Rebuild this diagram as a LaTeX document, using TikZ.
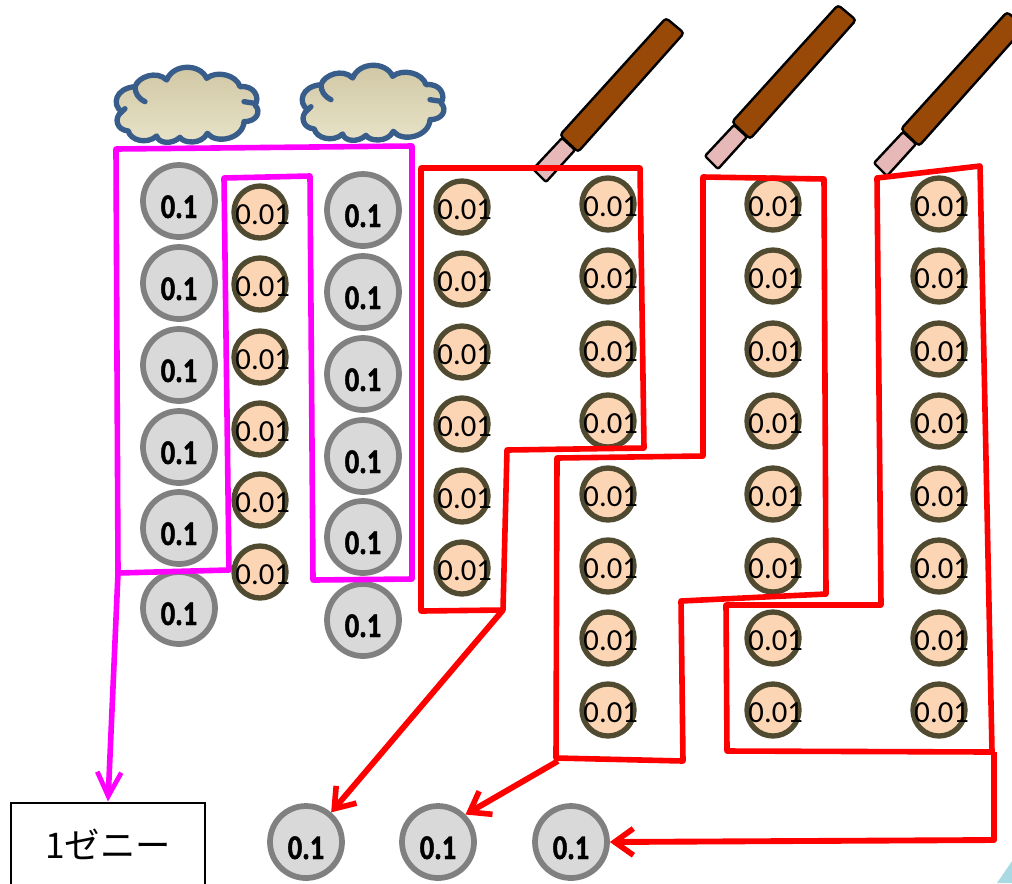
\documentclass[tikz,border=0pt]{standalone}
\usepackage{fontspec}
\usepackage{amsmath}
\usetikzlibrary{arrows.meta}
\setmainfont{Carlito}
\newfontface\bigfont{Carlito Bold}[FakeStretch=0.82,FakeBold=1.2]
\newfontfamily\jpfont{Noto Sans CJK JP}
\newcommand{\smalltxt}{\makebox[0pt]{\hspace{4pt}0.01}}

\begin{document}
\begin{tikzpicture}%
        [x=0.75pt,
        y=-0.75pt,
        bigcoin/.style={circle,draw=black!50,fill=black!15,line width=4.3pt,inner sep=0pt,minimum size=54pt,
            font=\bigfont\fontsize{26}{28}\selectfont,text height=25.5pt,text depth=0pt},
        smallcoin/.style={circle,draw=coinedge,fill=coinfill,line width=4pt,inner sep=0pt,minimum size=39pt,
            font=\fontsize{23}{25}\selectfont,text height=18pt,text depth=0pt},
        pengroup/.style={draw=pureline,line width=4.2pt,line join=round},
        redgroup/.style={draw=red,line width=4.2pt,line join=round},
        magarrow/.style={color=pureline,line width=4.2pt,-{Straight Barb[length=18pt,width=18pt,line width=3.6pt]}},
        redarrow/.style={color=red,line width=4.4pt,line join=round,-{Straight Barb[length=14pt,width=20pt,line width=4.2pt]}},
        pen/.style={draw=black,line width=1.8pt,rounded corners=2.5pt},
        cloudy/.style={draw=cloudedge,line width=4pt,top color=cloudtop,bottom color=cloudbot,line join=round},
        cloudline/.style={draw=cloudedge,line width=4pt,line cap=round}]

    \definecolor{coinedge}{HTML}{4F4A30}
    \definecolor{coinfill}{HTML}{FCD5B5}
    \definecolor{pureline}{HTML}{FF00FF}
    \definecolor{cloudedge}{HTML}{385D8A}
    \definecolor{cloudtop}{HTML}{CFC6A2}
    \definecolor{cloudbot}{HTML}{E8E3C9}
    \definecolor{penbrown}{HTML}{984807}
    \definecolor{penpink}{HTML}{E6B9B8}
    \definecolor{cornerblue}{HTML}{A9DAE3}

    \useasboundingbox (0,0) rectangle (1012,883);

    %% Corner mark
    \fill[cornerblue] (1012,861) -- (1012,883) -- (997,883) -- cycle;

    %% Pens
    \foreach \dx/\dy in {0/0,172/-13,341/-6}{
        \begin{scope}[shift={(\dx,\dy)}]
            \filldraw[pen,fill=penpink,rounded corners=1.5pt] (533,169) -- (562,138) -- (575,150) -- (546,182) -- cycle;
            \filldraw[pen,fill=penbrown] (666,18) -- (684,33) -- (578,152) -- (560,135) -- cycle;
        \end{scope}
    }

    %% Clouds
    \foreach \dx/\dy in {0/0,186/-2}{
        \begin{scope}[shift={(100+\dx,50+\dy)},scale=0.3333]
            \path[cloudy] (65,185) .. controls (35,165) and (45,115) .. (105,110)
                .. controls (115,80) and (170,60) .. (200,90)
                .. controls (220,40) and (300,40) .. (320,85)
                .. controls (350,60) and (410,75) .. (420,110)
                .. controls (465,105) and (480,145) .. (465,165)
                .. controls (485,185) and (470,215) .. (432,215)
                .. controls (430,265) and (350,285) .. (322,250)
                .. controls (305,285) and (250,280) .. (240,262)
                .. controls (215,285) and (175,280) .. (170,258)
                .. controls (140,285) and (90,270) .. (85,243)
                .. controls (50,240) and (40,205) .. (65,185) -- cycle;
            \draw[cloudline] (105,110) .. controls (105,130) and (115,145) .. (135,155);
            \draw[cloudline] (60,190) -- (75,176);
            \draw[cloudline] (465,160) -- (432,155);
        \end{scope}
    }

    %% Big coins
    \foreach \i/\yy in {1/201,2/283,3/365,4/447,5/528,6/608}{
        \node[bigcoin] (a\i) at (179,\yy) {0.1};
    }
    \foreach \i/\yy in {1/210,2/292,3/374,4/456,5/537,6/620}{
        \node[bigcoin] (b\i) at (363,\yy) {0.1};
    }
    \node[bigcoin] (r1) at (306,842) {0.1};
    \node[bigcoin] (r2) at (438,842) {0.1};
    \node[bigcoin] (r3) at (571,842) {0.1};

    %% Small coins
    \foreach \i/\yy in {1/212,2/284,3/357,4/429,5/500,6/572}{
        \node[smallcoin] (c\i) at (260,\yy) {\smalltxt};
    }
    \foreach \i/\yy in {1/207,2/279,3/352,4/424,5/496,6/568}{
        \node[smallcoin] (d\i) at (462,\yy) {\smalltxt};
    }
    \foreach \i/\yy in {1/204,2/276,3/349,4/421,5/494,6/566,7/638,8/710}{
        \node[smallcoin] (e\i) at (608,\yy) {\smalltxt};
        \node[smallcoin] (f\i) at (773,\yy) {\smalltxt};
        \node[smallcoin] (g\i) at (939,\yy) {\smalltxt};
    }

    %% Groups
    \draw[pengroup] (116,149) -- (412,146) -- (412,579) -- (313,580) -- (310,176) -- (224,178) -- (229,570) -- (118,573) -- cycle;
    \draw[redgroup] (421,168) -- (640,168) -- (644,448) -- (507,450) -- (503,610) -- (421,611) -- cycle;
    \draw[redgroup] (703,177) -- (824,179) -- (826,594) -- (681,601) -- (683,761) -- (556,758) -- (557,458) -- (703,456) -- cycle;
    \draw[redgroup] (877,178) -- (980,166) -- (992,752) -- (727,751) -- (726,605) -- (881,605) -- cycle;

    %% Result box
    \node[draw=black,line width=1.5pt,minimum width=145pt,minimum height=63pt,inner sep=0pt,font=\jpfont\fontsize{26.5}{28}\selectfont] (note) at (108,844.5) {1ゼニー};

    %% Arrows
    \coordinate (m1) at (118,573);
    \coordinate (x1) at (503,610);
    \coordinate (x2) at (558,761);
    \coordinate (x3) at (994,752);
    \coordinate (x3b) at (994,840);
    \draw[magarrow] (m1) -- (note.north);
    \draw[redarrow] (x1) -- (r1);
    \draw[redarrow] (x2) -- (r2.45);
    \draw[redarrow] (x3) -- (x3b) -- (r3.east);
\end{tikzpicture}
\end{document}
